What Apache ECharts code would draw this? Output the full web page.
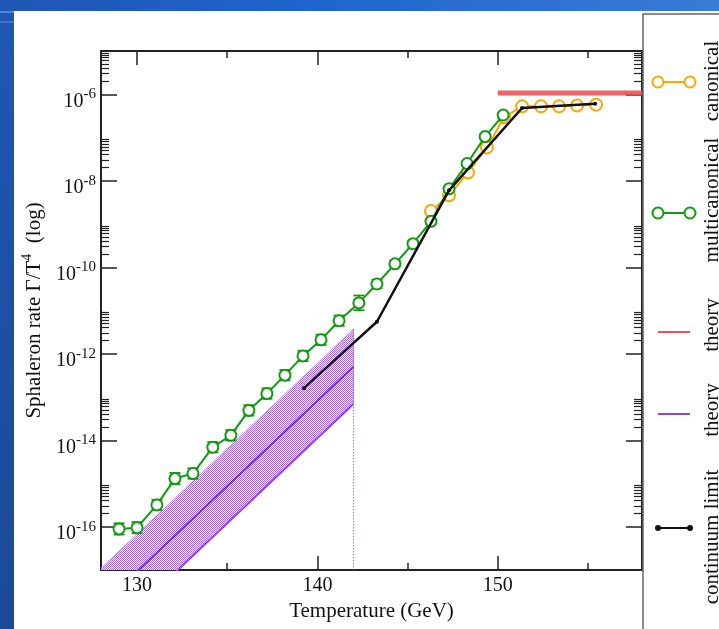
<!DOCTYPE html>
<html>
<head>
<meta charset="utf-8">
<script src="https://cdn.jsdelivr.net/npm/echarts@6/dist/echarts.min.js"></script>
<style>
  html, body { margin: 0; padding: 0; background: #fff; }
  #main { width: 719px; height: 629px; }
</style>
</head>
<body>
<div id="main"></div>
<script>
// multicanonical simulation points (GeV, rate)
const tempMulti = [129.0, 130.0, 131.1, 132.1, 133.1, 134.2, 135.2, 136.2, 137.2, 138.2, 139.2,
  140.2, 141.2, 142.3, 143.3, 144.3, 145.3, 146.3, 147.3, 148.3, 149.3, 150.3]
const rateMulti = [8.9e-17, 9.5e-17, 3.2e-16, 1.3e-15, 1.7e-15, 6.9e-15, 1.3e-14, 4.9e-14, 1.2e-13,
  3.2e-13, 8.9e-13, 2.1e-12, 5.8e-12, 1.5e-11, 4.1e-11, 1.2e-10, 3.5e-10, 1.15e-9, 6.5e-9,
  2.5e-8, 1.05e-7, 3.3e-7]
// error bar half widths in decades
const errMulti = [0.13, 0.13, 0.12, 0.13, 0.12, 0.12, 0.12, 0.12, 0.12, 0.12, 0.12,
  0.12, 0.12, 0.17, 0.1, 0.07, 0.07, 0.05, 0.05, 0.05, 0.05, 0.05]

// canonical simulation points
const tempCanon = [146.3, 147.3, 148.35, 149.4, 150.35, 151.35, 152.4, 153.4, 154.4, 155.45]
const rateCanon = [2.0e-9, 4.6e-9, 1.55e-8, 5.9e-8, 2.95e-7, 5.25e-7, 5.25e-7, 5.25e-7, 5.5e-7, 5.75e-7]

// continuum limit
const tempCont = [139.25, 143.3, 147.3, 151.35, 155.4]
const rateCont = [1.6e-13, 5.5e-12, 6.0e-9, 4.8e-7, 6.0e-7]

// theory, symmetric phase
const tempSym = [150, 158]
const rateSym = [1.07e-6, 1.07e-6]

// theory, broken phase band
const tempBroken = [128, 142]
const rateBrokenMid = [1.5e-18, 5.0e-13]
const rateBrokenUp = [1.1e-17, 3.7e-12]
const rateBrokenLow = [2.1e-19, 6.9e-14]

// ticks
const xMajor = [130, 140, 150]
const xMinor = [135, 145, 155]
const yMajor = [1e-16, 1e-14, 1e-12, 1e-10, 1e-8, 1e-6]
const yMinor = []
yMajor.forEach((d) => {
  for (let k = 2; k <= 9; k++) yMinor.push(k * d)
})

const FONT = 'Liberation Serif'
const AXIS = '#222'
const GREEN = '#129a12'
const ORANGE = '#ffa500'
const RED = '#f25050'
const PURPLE = '#9a3fe0'

const makePattern = () => {
  const c = document.createElement('canvas')
  c.width = 2
  c.height = 2
  const ctx = c.getContext('2d')
  ctx.fillStyle = '#ffffff'
  ctx.fillRect(0, 0, 2, 2)
  ctx.fillStyle = '#a866ea'
  ctx.fillRect(0, 0, 1, 1)
  ctx.fillRect(1, 1, 1, 1)
  return c
}
const pattern = makePattern()

const chart = echarts.init(document.getElementById('main'))

const xBase = {
  type: 'value', min: 128, max: 158, splitLine: { show: false },
}
const yBase = {
  type: 'log', logBase: 10, min: 1e-17, max: 1e-5, splitLine: { show: false },
}
const lineAxis = { show: true, onZero: false, lineStyle: { color: AXIS, width: 2 } }
const noAxis = { show: false }

const supLabel = (v) => {
  const e = Math.round(Math.log10(v))
  return `{b|10}{s|${e}}`
}

const legendItems = [
  { name: 'canonical', y: 82, ty: 81, color: ORANGE, kind: 'circle' },
  { name: 'multicanonical', y: 213, ty: 200, color: GREEN, kind: 'circle' },
  { name: 'theory', y: 332, ty: 325, color: RED, kind: 'line' },
  { name: 'theory', y: 414, ty: 410, color: PURPLE, kind: 'line' },
  { name: 'continuum limit', y: 528, ty: 537, color: '#111', kind: 'dot' },
]

const legendGraphics = []
legendItems.forEach((it) => {
  legendGraphics.push({
    type: 'line', shape: { x1: 658, y1: it.y, x2: 690, y2: it.y },
    style: { stroke: it.color, lineWidth: 2 }, z: 101,
  })
  if (it.kind !== 'line') {
    const r = it.kind === 'circle' ? 5.5 : 2
    ;[658, 690].forEach((cx) => {
      legendGraphics.push({
        type: 'circle', shape: { cx, cy: it.y, r },
        style: { stroke: it.color, fill: it.kind === 'circle' ? '#fff' : it.color, lineWidth: 2 }, z: 102,
      })
    })
  }
  legendGraphics.push({
    type: 'text', x: 712, y: it.ty, rotation: Math.PI / 2, z: 102,
    style: {
      text: it.name, font: `21px "${FONT}"`, fill: '#111',
      textAlign: 'center', textVerticalAlign: 'middle',
    },
  })
})

const option = {
  backgroundColor: '#fff',
  animation: false,
  grid: { left: 101, right: 77, top: 51, bottom: 59, outerBoundsMode: 'none' },
  graphic: [
    {
      type: 'rect', shape: { x: 0, y: 0, width: 719, height: 11 }, z: -10,
      style: {
        fill: new echarts.graphic.LinearGradient(0, 0, 1, 0, [
          { offset: 0, color: '#1f56b3' }, { offset: 0.4, color: '#1f63cc' }, { offset: 1, color: '#3a7bd5' },
        ]),
      },
    },
    {
      type: 'rect', shape: { x: 0, y: 0, width: 14, height: 629 }, z: -9,
      style: {
        fill: new echarts.graphic.LinearGradient(0, 0, 0, 1, [
          { offset: 0, color: '#1e57b5' }, { offset: 1, color: '#1a4a96' },
        ]),
      },
    },
    { type: 'rect', shape: { x: 0, y: 11, width: 14, height: 2 }, style: { fill: '#4f86d6' }, z: -8 },
    { type: 'rect', shape: { x: 0, y: 21, width: 14, height: 2 }, style: { fill: '#3f78cc' }, z: -8 },
    {
      type: 'rect', shape: { x: 643, y: 14, width: 120, height: 700 }, z: 100,
      style: { fill: '#fff', stroke: '#666', lineWidth: 1.5 },
    },
    ...legendGraphics,
  ],
  xAxis: [
    {
      ...xBase, position: 'bottom', axisLine: lineAxis,
      axisTick: { show: true, inside: true, length: 14, customValues: xMajor, lineStyle: { color: AXIS, width: 1.5 } },
      axisLabel: { customValues: xMajor, fontFamily: FONT, fontSize: 20, color: '#111', margin: 6 },
      name: 'Temperature (GeV)', nameLocation: 'middle', nameGap: 29,
      nameTextStyle: { fontFamily: FONT, fontSize: 21, color: '#111' },
    },
    {
      ...xBase, position: 'bottom', axisLine: noAxis,
      axisTick: { show: true, inside: true, length: 7, customValues: xMinor, lineStyle: { color: AXIS, width: 1.5 } },
      axisLabel: { show: false },
    },
    {
      ...xBase, position: 'top', axisLine: lineAxis,
      axisTick: { show: true, inside: true, length: 14, customValues: xMajor, lineStyle: { color: AXIS, width: 1.5 } },
      axisLabel: { show: false },
    },
    {
      ...xBase, position: 'top', axisLine: noAxis,
      axisTick: { show: true, inside: true, length: 7, customValues: xMinor, lineStyle: { color: AXIS, width: 1.5 } },
      axisLabel: { show: false },
    },
  ],
  yAxis: [
    {
      ...yBase, position: 'left', axisLine: lineAxis,
      axisTick: { show: true, inside: true, length: 16, customValues: yMajor, lineStyle: { color: AXIS, width: 1.5 } },
      axisLabel: {
        customValues: yMajor, formatter: supLabel, margin: 5, color: '#111', padding: [14, 0, 0, 0],
        rich: {
          b: { fontFamily: FONT, fontSize: 20, color: '#111' },
          s: { fontFamily: FONT, fontSize: 15, color: '#111', padding: [0, 0, 14, 0] },
        },
      },
      name: '{a|Sphaleron rate Γ/T}{s|4}{a|  (log)}',
      nameLocation: 'middle', nameGap: 52, nameRotate: 90,
      nameTextStyle: {
        rich: {
          a: { fontFamily: FONT, fontSize: 21, color: '#111' },
          s: { fontFamily: FONT, fontSize: 14, color: '#111', padding: [0, 0, 14, 0] },
        },
      },
    },
    {
      ...yBase, position: 'left', axisLine: noAxis,
      axisTick: { show: true, inside: true, length: 8, customValues: yMinor, lineStyle: { color: AXIS, width: 1.2 } },
      axisLabel: { show: false },
    },
    {
      ...yBase, position: 'right', axisLine: lineAxis,
      axisTick: { show: true, inside: true, length: 16, customValues: yMajor, lineStyle: { color: AXIS, width: 1.5 } },
      axisLabel: { show: false },
    },
    {
      ...yBase, position: 'right', axisLine: noAxis,
      axisTick: { show: true, inside: true, length: 8, customValues: yMinor, lineStyle: { color: AXIS, width: 1.2 } },
      axisLabel: { show: false },
    },
  ],
  series: [
    {
      // broken phase band
      type: 'custom', clip: true, z: 2,
      data: tempBroken.map((t, i) => [t, rateBrokenUp[i], rateBrokenLow[i]]),
      renderItem: (params, api) => {
        if (params.dataIndex !== 0) return null
        const up = tempBroken.map((t, i) => api.coord([t, rateBrokenUp[i]]))
        const low = tempBroken.map((t, i) => api.coord([t, rateBrokenLow[i]])).reverse()
        return {
          type: 'polygon',
          shape: { points: up.concat(low) },
          style: { fill: { image: pattern, repeat: 'repeat' }, stroke: '#b784ec', lineWidth: 0.8 },
        }
      },
    },
    {
      type: 'line', z: 3, symbol: 'none',
      data: tempBroken.map((t, i) => [t, rateBrokenMid[i]]),
      lineStyle: { color: '#7a2fc4', width: 2 },
    },
    {
      type: 'line', z: 3, symbol: 'none',
      data: tempBroken.map((t, i) => [t, rateBrokenLow[i]]),
      lineStyle: { color: PURPLE, width: 2 },
    },
    {
      type: 'line', z: 3, symbol: 'none',
      data: [[tempBroken[1], rateBrokenUp[1]], [tempBroken[1], 1e-17]],
      lineStyle: { color: PURPLE, width: 1.2, type: [1, 2] },
    },
    {
      type: 'line', z: 3, symbol: 'none',
      data: tempSym.map((t, i) => [t, rateSym[i]]),
      lineStyle: { color: RED, width: 5, opacity: 0.9 },
    },
    {
      type: 'line', z: 4, symbol: 'emptyCircle', symbolSize: 12,
      data: tempCanon.map((t, i) => [t, rateCanon[i]]),
      lineStyle: { color: ORANGE, width: 2 },
      itemStyle: { color: ORANGE, borderColor: ORANGE, borderWidth: 2 },
    },
    {
      // error bars for multicanonical
      type: 'custom', clip: true, z: 5,
      data: tempMulti.map((t, i) => [t, rateMulti[i] * Math.pow(10, -errMulti[i]), rateMulti[i] * Math.pow(10, errMulti[i])]),
      renderItem: (params, api) => {
        const lo = api.coord([api.value(0), api.value(1)])
        const hi = api.coord([api.value(0), api.value(2)])
        const w = 5.5
        const st = { stroke: GREEN, lineWidth: 1.8 }
        return {
          type: 'group',
          children: [
            { type: 'line', shape: { x1: lo[0], y1: lo[1], x2: hi[0], y2: hi[1] }, style: st },
            { type: 'line', shape: { x1: lo[0] - w, y1: lo[1], x2: lo[0] + w, y2: lo[1] }, style: st },
            { type: 'line', shape: { x1: hi[0] - w, y1: hi[1], x2: hi[0] + w, y2: hi[1] }, style: st },
          ],
        }
      },
    },
    {
      type: 'line', z: 6, symbol: 'emptyCircle', symbolSize: 11,
      data: tempMulti.map((t, i) => [t, rateMulti[i]]),
      lineStyle: { color: GREEN, width: 2 },
      itemStyle: { color: GREEN, borderColor: GREEN, borderWidth: 2 },
    },
    {
      type: 'line', z: 7, symbol: 'circle', symbolSize: 4,
      data: tempCont.map((t, i) => [t, rateCont[i]]),
      lineStyle: { color: '#111', width: 2.5 },
      itemStyle: { color: '#111' },
    },
  ],
}

chart.setOption(option)
</script>
</body>
</html>
